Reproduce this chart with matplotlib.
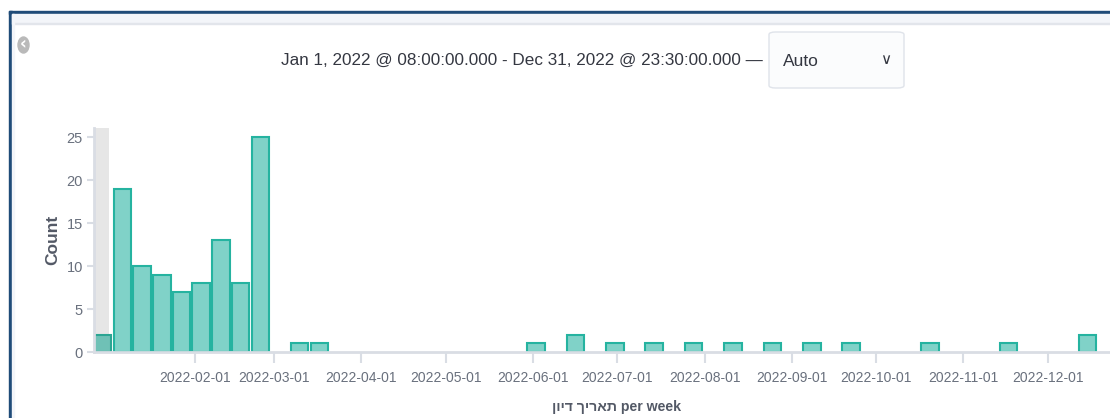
import numpy as np
import matplotlib
matplotlib.use("Agg")
import matplotlib.pyplot as plt
import matplotlib.dates as mdates
from matplotlib.patches import Rectangle, FancyBboxPatch, Ellipse
from matplotlib.transforms import IdentityTransform

# weekly buckets (Monday start) and counts
weeks = ["2021-12-27", "2022-01-03", "2022-01-10", "2022-01-17", "2022-01-24",
         "2022-01-31", "2022-02-07", "2022-02-14", "2022-02-21", "2022-03-07",
         "2022-03-14", "2022-05-30", "2022-06-13", "2022-06-27", "2022-07-11",
         "2022-07-25", "2022-08-08", "2022-08-22", "2022-09-05", "2022-09-19",
         "2022-10-17", "2022-11-14", "2022-12-12"]
counts = [2, 19, 10, 9, 7, 8, 13, 8, 25, 1, 1, 1, 2, 1, 1, 1, 1, 1, 1, 1, 1, 1, 2]
tick_dates = ["2022-02-01", "2022-03-01", "2022-04-01", "2022-05-01", "2022-06-01",
              "2022-07-01", "2022-08-01", "2022-09-01", "2022-10-01", "2022-11-01",
              "2022-12-01"]
y_ticks = [0, 5, 10, 15, 20, 25]
range_start = "2022-01-01 08:00"
title_txt = "Jan 1, 2022 @ 08:00:00.000 - Dec 31, 2022 @ 23:30:00.000 \u2014"
xlabel_txt = "תאריך דיון"[::-1] + " per week"   # visual order for RTL run

W, H = 1110, 418
fig = plt.figure(figsize=(W / 100, H / 100), dpi=100)
fnt = ["Liberation Sans", "DejaVu Sans"]

def px(x, y):
    # pixel (top-left origin) -> figure fraction
    return x / W, 1 - y / H

# panel frame
fig.patches.append(Rectangle((8.5 / W, 0), 3 / W, (H - 11) / H,
                             transform=fig.transFigure, color="#1f4b78", zorder=0))
fig.patches.append(Rectangle(px(8.5, 14), (W - 8.5) / W, 3 / H,
                             transform=fig.transFigure, color="#1f4b78", zorder=0))
fig.patches.append(Rectangle(px(11.5, 23), (W - 11.5) / W, 9 / H,
                             transform=fig.transFigure, color="#f3f5f9", zorder=0))
fig.patches.append(Rectangle(px(11.5, 24), (W - 11.5) / W, 1.5 / H,
                             transform=fig.transFigure, color="#e2e5eb", zorder=0))
fig.patches.append(Rectangle((11.5 / W, 0), 2 / W, (H - 14) / H,
                             transform=fig.transFigure, color="#f3f5f9", zorder=0))

# collapse icon
fig.patches.append(Ellipse((23.5, H - 45), 11, 16, transform=IdentityTransform(),
                           color="#b9b9b9", zorder=1))
fig.text(*px(23, 44.5), "\u2039", color="white", fontsize=12, fontweight="bold",
         ha="center", va="center", family="DejaVu Sans")

# title + interval dropdown
fig.text(*px(763, 60), title_txt, ha="right", va="center", fontsize=12.3,
         color="#343741", family=fnt)
fig.patches.append(FancyBboxPatch(px(769, 88), 135 / W, 56 / H,
                                  boxstyle="round,pad=0,rounding_size=0.006",
                                  transform=fig.transFigure, facecolor="#fbfcfd",
                                  edgecolor="#dfe3ea", linewidth=1))
fig.text(*px(783, 61), "Auto", ha="left", va="center", fontsize=12.5,
         color="#343741", family=fnt)
fig.text(*px(886, 59), "\u2228", ha="center", va="center", fontsize=11,
         color="#343741", family="DejaVu Sans")

# chart
x0 = np.datetime64("2021-12-27")
x_end = x0 + np.timedelta64(int(361.1 * 24), "h")
ax = fig.add_axes([94 / W, 66 / H, 1 - 94 / W, 224 / H])
wk = np.array(weeks, dtype="datetime64[D]")
rs = np.datetime64(range_start)
ax.axvspan(x0, rs, color="#e6e6e6", zorder=0, lw=0)
face = ["#6fc1b6" if w < rs else "#80d2c8" for w in wk]
edge = ["#2ba593" if w < rs else "#25b3a0" for w in wk]
ax.bar(wk, counts, width=6.2, align="edge", color=face, edgecolor=edge,
       linewidth=1.5, zorder=2)

ax.set_xlim(x0, x_end)
ax.set_ylim(0, 26.05)
ax.set_xticks(np.array(tick_dates, dtype="datetime64[D]"))
ax.xaxis.set_major_formatter(mdates.DateFormatter("%Y-%m-%d"))
ax.set_yticks(y_ticks)
for s in ["top", "right"]:
    ax.spines[s].set_visible(False)
for s in ["left", "bottom"]:
    ax.spines[s].set_color("#d9dde4")
    ax.spines[s].set_linewidth(2)
ax.tick_params(axis="x", length=8, width=1.5, color="#d9dde4", pad=6,
               labelsize=10, labelcolor="#69707d")
ax.tick_params(axis="y", length=5, width=1.5, color="#d9dde4", pad=3,
               labelsize=10.5, labelcolor="#69707d")
for lab in ax.get_xticklabels() + ax.get_yticklabels():
    lab.set_family(fnt)
ax.patch.set_visible(False)

fig.text(*px(53, 240), "Count", rotation=90, ha="center", va="center",
         fontsize=12.5, fontweight="bold", color="#535966", family=fnt)
fig.text(*px(616, 407), xlabel_txt, ha="center", va="center", fontsize=10.2,
         fontweight="bold", color="#535966", family=fnt)

fig.savefig("out.png", dpi=100)
